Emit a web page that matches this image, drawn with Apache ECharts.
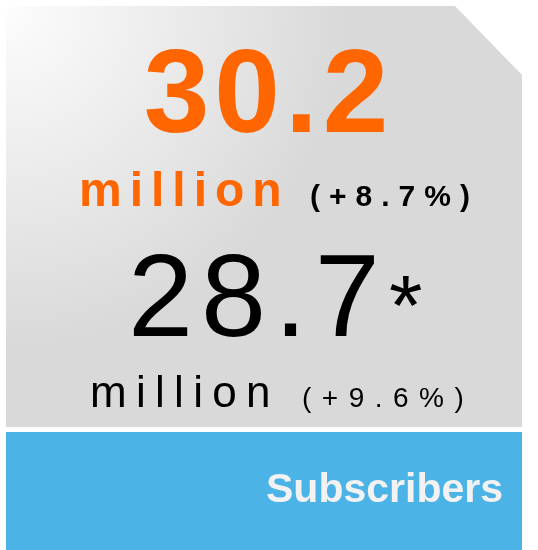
<!DOCTYPE html>
<html>
<head>
<meta charset="utf-8">
<script src="https://cdn.jsdelivr.net/npm/echarts@6/dist/echarts.min.js"></script>
<style>
  html, body { margin: 0; padding: 0; background: #fff; }
  #main { width: 538px; height: 550px; }
</style>
</head>
<body>
<div id="main"></div>
<script>
// figures shown on the card
const values = ["30.2", "28.7"];
const units = ["million", "million"];
const changes = ["(+8.7%)", "(+9.6%)"];
const footnoteMark = "*";
const label = "Subscribers";

const FONT = '"Liberation Sans", Arial, sans-serif';
const measureCtx = document.createElement("canvas").getContext("2d");

// zrender has no letter-spacing, so lay each glyph out by hand
function spaced(str, x, baseline, size, weight, color, spacing, align) {
  let font = weight + " " + size + "px " + FONT;
  measureCtx.font = font;
  let widths = str.split("").map(c => measureCtx.measureText(c).width);
  let total = widths.reduce((a, b) => a + b, 0) + spacing * (str.length - 1);
  let cx = align === "center" ? x - total / 2 : x;
  let out = [];
  str.split("").forEach((c, i) => {
    out.push({
      type: "text",
      x: cx,
      y: baseline - size * 0.285,
      style: {
        text: c,
        fill: color,
        font: font,
        textAlign: "left",
        textVerticalAlign: "middle"
      }
    });
    cx += widths[i] + spacing;
  });
  return out;
}

let myCharts = echarts.init(document.getElementById("main"));

let elements = [
  {
    // grey card with a cut top-right corner
    type: "rect",
    shape: { x: 6, y: 6, width: 516, height: 421, r: [10, 0, 0, 0] },
    style: {
      fill: new echarts.graphic.RadialGradient(6, 6, 340, [
        { offset: 0, color: "#fdfdfd" },
        { offset: 1, color: "#d9d9d9" }
      ], true)
    }
  },
  {
    type: "polygon",
    shape: { points: [[454, 5], [524, 5], [524, 77]] },
    style: { fill: "#ffffff" }
  },
  {
    type: "rect",
    shape: { x: 6, y: 432, width: 516, height: 118 },
    style: { fill: "#4bb3e6" }
  },
  {
    type: "text",
    x: 503,
    y: 491,
    style: {
      text: label,
      fill: "#f2f2f2",
      font: "bold 41px " + FONT,
      textAlign: "right",
      textVerticalAlign: "middle"
    }
  }
];

elements = elements
  .concat(spaced(values[0], 266, 133, 118, "bold", "#ff6600", 5, "center"))
  .concat(spaced(units[0], 79, 206, 48, "bold", "#ff6600", 8, "left"))
  .concat(spaced(changes[0], 310, 206, 30, "bold", "#000000", 9, "left"))
  .concat(spaced(values[1], 128, 337, 117, "normal", "#000000", 8, "left"))
  .concat(spaced(footnoteMark, 389, 336, 86, "normal", "#000000", 0, "left"))
  .concat(spaced(units[1], 90, 407, 44, "normal", "#000000", 9.3, "left"))
  .concat(spaced(changes[1], 302, 407, 28, "normal", "#000000", 10.5, "left"));

myCharts.setOption({
  animation: false,
  graphic: { elements: elements }
});
</script>
</body>
</html>
